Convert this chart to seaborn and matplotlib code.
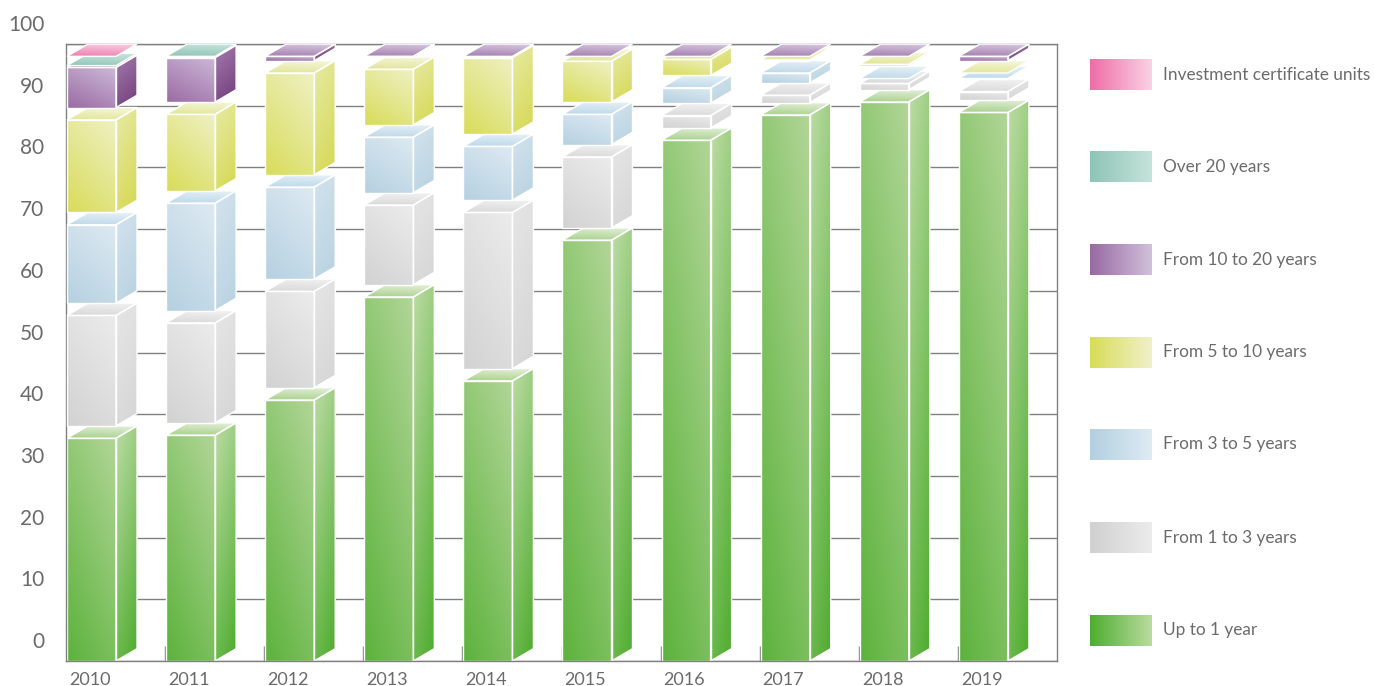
import numpy as np
import pandas as pd
import matplotlib
matplotlib.use("Agg")
import matplotlib.pyplot as plt
from matplotlib.patches import Polygon
from matplotlib.colors import to_rgb
from matplotlib.transforms import ScaledTranslation
import seaborn as sns

# Portfolio share by residual maturity (%), one list per maturity band
years = ["2010", "2011", "2012", "2013", "2014", "2015", "2016", "2017", "2018", "2019"]
up_to_1 = [38.1, 38.6, 44.3, 61.0, 47.4, 70.2, 86.4, 90.5, 92.6, 90.9]
from_1_to_3 = [19.9, 18.2, 17.6, 14.9, 27.3, 13.5, 4.0, 3.2, 3.0, 3.4]
from_3_to_5 = [14.7, 19.4, 16.9, 11.0, 10.7, 6.9, 4.5, 3.6, 0.8, 2.1]
from_5_to_10 = [17.0, 14.4, 18.5, 11.0, 14.4, 8.6, 4.6, 2.1, 2.3, 0.9]
from_10_to_20 = [8.5, 9.2, 2.7, 2.1, 0.2, 0.8, 0.5, 0.6, 1.3, 2.7]
over_20 = [0.3, 0.2, 0.0, 0.0, 0.0, 0.0, 0.0, 0.0, 0.0, 0.0]
certificates = [1.5, 0.0, 0.0, 0.0, 0.0, 0.0, 0.0, 0.0, 0.0, 0.0]

series = [
    ("Up to 1 year", up_to_1, "green"),
    ("From 1 to 3 years", from_1_to_3, "gray"),
    ("From 3 to 5 years", from_3_to_5, "blue"),
    ("From 5 to 10 years", from_5_to_10, "yellow"),
    ("From 10 to 20 years", from_10_to_20, "purple"),
    ("Over 20 years", over_20, "teal"),
    ("Investment certificate units", certificates, "pink"),
]

# gradient end colours per face: front, side, top, legend swatch
palette = {
    "green": dict(front=("#5cb23c", "#b2d698"), side=("#4cab2c", "#bddca5"),
                  top=("#a8d08b", "#e6f2dd"), legend=("#4fad30", "#badb9f")),
    "gray": dict(front=("#d2d2d2", "#ececec"), side=("#d5d5d5", "#e6e6e6"),
                 top=("#d9d9d9", "#f3f3f3"), legend=("#d0d0d0", "#ececec")),
    "blue": dict(front=("#b5d0e1", "#deeaf2"), side=("#b8d2e1", "#d3e3ed"),
                 top=("#bdd8ea", "#e8f2f8"), legend=("#b3cfe0", "#deebf3")),
    "yellow": dict(front=("#d8dc59", "#eff1c4"), side=("#d4d84f", "#e8eaa6"),
                   top=("#e2e597", "#f7f8e0"), legend=("#d8dc58", "#f0f1c8")),
    "purple": dict(front=("#9a6ba3", "#cdb9d8"), side=("#713a7a", "#a37cad"),
                   top=("#a580b0", "#dccde3"), legend=("#986aa1", "#d1c0dc")),
    "teal": dict(front=("#8cc3b5", "#c2e1d8"), side=("#6fb2a2", "#a6d3c7"),
                 top=("#8fc5b7", "#cde7df"), legend=("#8ec4b6", "#c6e3da")),
    "pink": dict(front=("#ec6aa4", "#f8cde0"), side=("#dc4f8e", "#f29cc2"),
                 top=("#f07eb1", "#fad6e6"), legend=("#ee6da7", "#fad2e4")),
}

sns.set_theme(style="white")
plt.rcParams["font.family"] = ["Lato", "DejaVu Sans"]
TEXT = "#6b6b6b"
LINE = "#808080"

fig = plt.figure(figsize=(13.74, 6.86), dpi=100)
ax = fig.add_axes([66 / 1374, 25 / 686, 991 / 1374, 617 / 686])

FRONT_W = 0.4945          # width of the front face in category units
DX, DZ = 0.212, 2.0       # oblique depth: horizontal (categories) and vertical (%)
x_front = np.arange(len(years)) - 0.2427


def gradient_fill(axis, patch, c0, c1, w, z):
    """Fill a patch with a linear gradient from c0 to c1 along direction w."""
    verts = patch.get_path().vertices
    if not isinstance(patch, Polygon):
        verts = patch.get_patch_transform().transform(verts)
    x0, y0 = verts.min(0)
    x1, y1 = verts.max(0)
    if x1 - x0 <= 0 or y1 - y0 <= 0:
        return
    u = np.linspace(0, 1, 80)
    U, V = np.meshgrid(u, u)
    t = w[0] * U + w[1] * V
    t = (t - t.min()) / (t.max() - t.min())
    img = (1 - t)[..., None] * np.array(to_rgb(c0)) + t[..., None] * np.array(to_rgb(c1))
    im = axis.imshow(img, extent=(x0, x1, y0, y1), origin="lower", aspect="auto",
                     interpolation="bilinear", zorder=z)
    im.set_clip_path(patch)


cum = np.zeros(len(years))
for k, (name, vals, key) in enumerate(series):
    vals = np.asarray(vals, dtype=float)
    cols = palette[key]
    front_h = np.clip(vals - DZ, 0, None)
    df = pd.DataFrame({"pos": x_front, "height": front_h})
    n0 = len(ax.patches)
    sns.barplot(data=df, x="pos", y="height", native_scale=True, orient="x",
                width=FRONT_W, bottom=cum, errorbar=None, ax=ax,
                color=cols["front"][0])
    rects = list(ax.patches)[n0:]
    base = 2 + k
    for rect, v, c in zip(rects, vals, cum):
        xl = rect.get_x()
        xr = xl + rect.get_width()
        if v <= 0:
            rect.remove()
            continue
        if v > DZ:
            rect.set_facecolor("none")
            rect.set_edgecolor("white")
            rect.set_linewidth(1.0)
            rect.set_zorder(base + 0.5)
            gradient_fill(ax, rect, *cols["front"], (0.6, 1.0), base)
            side = Polygon([(xr, c), (xr + DX, c + DZ), (xr + DX, c + v), (xr, c + v - DZ)],
                           closed=True, facecolor="none", edgecolor="white",
                           linewidth=1.0, zorder=base + 0.5)
            ax.add_patch(side)
            gradient_fill(ax, side, *cols["side"], (-0.4, 1.0), base + 0.1)
        else:
            rect.remove()
        top = Polygon([(xl, c + v - DZ), (xr, c + v - DZ), (xr + DX, c + v), (xl + DX, c + v)],
                      closed=True, facecolor="none", edgecolor="white",
                      linewidth=1.0, zorder=base + 0.5)
        ax.add_patch(top)
        gradient_fill(ax, top, *cols["top"], (0.2, 1.0), base + 0.2)
    cum += vals

# axes, grid and ticks
ax.set_xlim(-0.5, len(years) - 0.5)
ax.set_ylim(0, 100)
ax.set_xlabel("")
ax.set_ylabel("")
ax.set_axisbelow(True)
ax.yaxis.grid(True, color=LINE, linewidth=1.0)
ax.xaxis.grid(False)
ax.set_yticks(np.arange(0, 101, 10))
ax.set_yticklabels([str(v) for v in range(0, 101, 10)])
ax.tick_params(axis="y", length=0, pad=15.5, labelsize=15, labelcolor=TEXT)
ax.set_xticks(np.arange(len(years)) - 0.26)
ax.set_xticklabels(years)
ax.set_xticks(np.arange(1, len(years)) - 0.5, minor=True)
ax.tick_params(axis="x", which="major", length=0, pad=8, labelsize=13, labelcolor=TEXT)
ax.tick_params(axis="x", which="minor", bottom=True, direction="in", length=10.8,
               width=1.0, color=LINE)
for side_name in ["left", "right", "bottom", "top"]:
    ax.spines[side_name].set_visible(True)
    ax.spines[side_name].set_color(LINE)
    ax.spines[side_name].set_linewidth(1.0)

lift = ScaledTranslation(0, 21 / 100, fig.dpi_scale_trans)
for lab in ax.get_yticklabels():
    lab.set_transform(lab.get_transform() + lift)

# legend panel on the right
lax = fig.add_axes([1080 / 1374, 0, 294 / 1374, 1])
legend_y = [75, 167, 260, 352.5, 444.5, 538, 630.5]
for (name, vals, key), yc in zip(series[::-1], legend_y):
    c0, c1 = palette[key]["legend"]
    t = np.linspace(0, 1, 64)[None, :]
    img = (1 - t)[..., None] * np.array(to_rgb(c0)) + t[..., None] * np.array(to_rgb(c1))
    lax.imshow(img, extent=(1090, 1152, yc + 15.5, yc - 15.5), aspect="auto",
               interpolation="bilinear")
    lax.text(1163, yc, name, va="center", ha="left", fontsize=12.4, color=TEXT)
lax.set_xlim(1080, 1374)
lax.set_ylim(686, 0)
lax.axis("off")

fig.savefig("out.png", dpi=100)
